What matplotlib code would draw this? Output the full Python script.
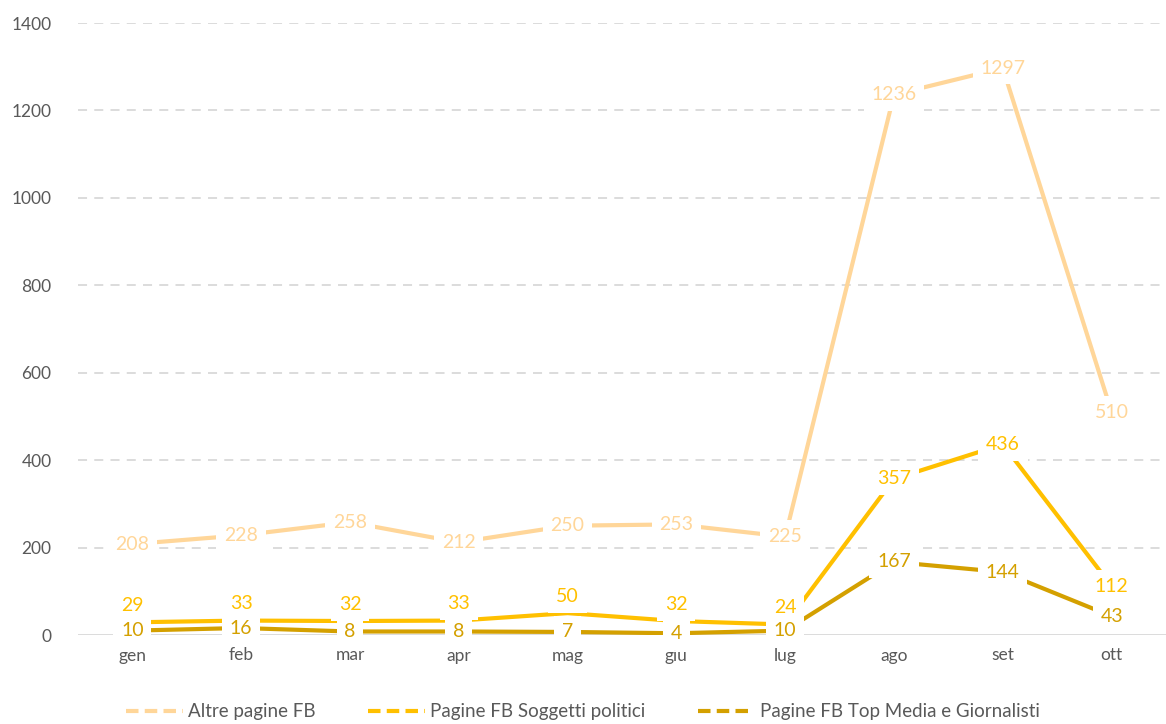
import matplotlib
matplotlib.use("Agg")
import matplotlib.pyplot as plt
from matplotlib.lines import Line2D

plt.rcParams['font.family'] = ['Lato', 'DejaVu Sans']

months = ["gen", "feb", "mar", "apr", "mag", "giu", "lug", "ago", "set", "ott"]
altre = [208, 228, 258, 212, 250, 253, 225, 1236, 1297, 510]
soggetti = [29, 33, 32, 33, 50, 32, 24, 357, 436, 112]
media = [10, 16, 8, 8, 7, 4, 10, 167, 144, 43]
names = ["Altre pagine FB", "Pagine FB Soggetti politici", "Pagine FB Top Media e Giornalisti"]
colors = ["#FFD699", "#FFC000", "#D4A000"]
yticks = [0, 200, 400, 600, 800, 1000, 1200, 1400]

fig = plt.figure(figsize=(11.66, 7.24), dpi=100)
ax = fig.add_axes([78/1166, 1-635/724, 1088/1166, 612/724])
x = list(range(len(months)))

for i, (vals, c) in enumerate(zip([altre, soggetti, media], colors)):
    ax.plot(x, vals, color=c, lw=3, solid_capstyle='butt', zorder=3)
    for xi, v in zip(x, vals):
        dy = 0
        if i == 1 and v < 100:
            dy = 12
        ax.annotate(str(v), (xi, v), xytext=(0, dy), textcoords='offset points',
                    ha='center', va='center', fontsize=14, color=c, zorder=5,
                    bbox=dict(boxstyle='square,pad=0.4', fc='white', ec='none'))

ax.set_xlim(-0.5, len(months) - 0.5)
ax.set_ylim(0, 1400)
ax.set_yticks(yticks)
ax.set_xticks(x)
ax.set_xticklabels(months)
ax.tick_params(axis='both', length=0, labelsize=12.5, labelcolor='#595959')
ax.tick_params(axis='x', pad=9)
ax.tick_params(axis='y', pad=19)
for s in ax.spines.values():
    s.set_visible(False)
for t in yticks[1:]:
    ax.axhline(t, color='#D9D9D9', lw=1.3, ls=(0, (5, 4)), zorder=1)
ax.axhline(0, color='#D9D9D9', lw=1.3, zorder=1)

handles = [Line2D([0], [0], color=c, lw=3, ls=(0, (3, 1.5))) for c in colors]
fig.legend(handles, names, loc='center', bbox_to_anchor=(0.5, 1-712/724), ncol=3,
           frameon=False, fontsize=13.5, labelcolor='#595959', handlelength=3,
           columnspacing=2.8, handletextpad=0.3)

fig.savefig("out.png", dpi=100)
